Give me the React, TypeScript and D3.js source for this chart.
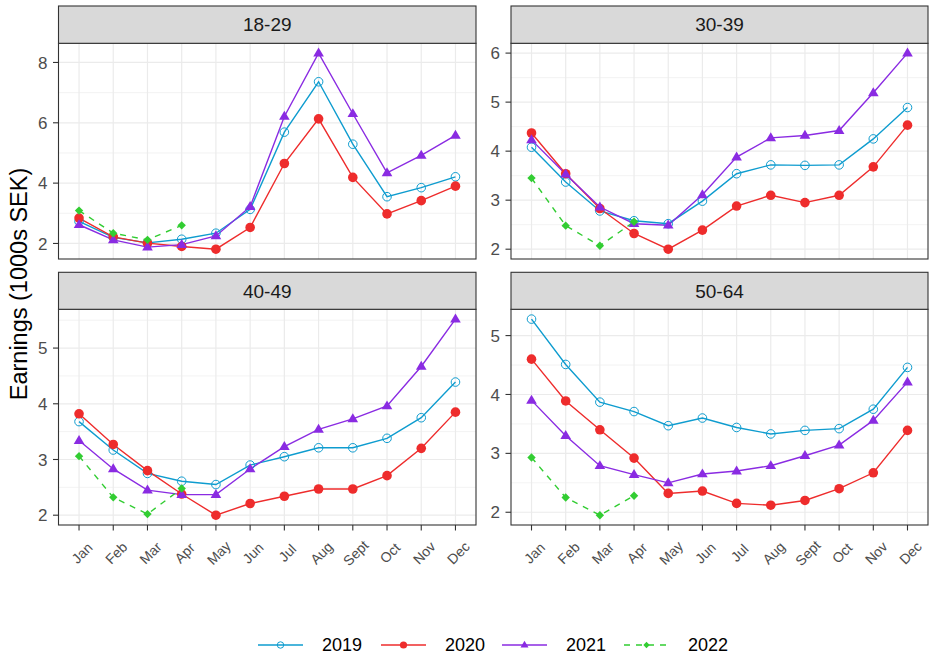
import React from "react";
import * as d3 from "d3";

const months = ["Jan", "Feb", "Mar", "Apr", "May", "Jun", "Jul", "Aug", "Sept", "Oct", "Nov", "Dec"];
const years = ["2019", "2020", "2021", "2022"];
const panels = ["18-29", "30-39", "40-49", "50-64"];

const g1829_2019 = [2.73, 2.2, 2.02, 2.14, 2.34, 3.13, 5.69, 7.36, 5.29, 3.55, 3.85, 4.21];
const g1829_2020 = [2.84, 2.22, 2.01, 1.9, 1.81, 2.53, 4.65, 6.13, 4.19, 2.98, 3.42, 3.9];
const g1829_2021 = [2.62, 2.12, 1.88, 1.96, 2.25, 3.22, 6.21, 8.31, 6.3, 4.34, 4.92, 5.58];
const g1829_2022 = [3.09, 2.34, 2.12, 2.6];

const g3039_2019 = [4.08, 3.37, 2.78, 2.58, 2.52, 2.98, 3.54, 3.72, 3.71, 3.72, 4.25, 4.89];
const g3039_2020 = [4.37, 3.54, 2.83, 2.32, 2.0, 2.39, 2.88, 3.1, 2.95, 3.1, 3.68, 4.53];
const g3039_2021 = [4.23, 3.53, 2.86, 2.52, 2.49, 3.11, 3.88, 4.27, 4.32, 4.42, 5.19, 6.0];
const g3039_2022 = [3.45, 2.48, 2.07, 2.56];

const g4049_2019 = [3.68, 3.17, 2.75, 2.61, 2.55, 2.9, 3.05, 3.21, 3.21, 3.38, 3.75, 4.39];
const g4049_2020 = [3.82, 3.27, 2.8, 2.38, 2.0, 2.21, 2.34, 2.47, 2.47, 2.71, 3.2, 3.85];
const g4049_2021 = [3.34, 2.83, 2.45, 2.37, 2.37, 2.83, 3.23, 3.54, 3.73, 3.96, 4.67, 5.52];
const g4049_2022 = [3.06, 2.32, 2.02, 2.48];

const g5064_2019 = [5.28, 4.51, 3.87, 3.71, 3.47, 3.6, 3.44, 3.33, 3.39, 3.42, 3.75, 4.46];
const g5064_2020 = [4.6, 3.89, 3.4, 2.92, 2.32, 2.36, 2.15, 2.12, 2.2, 2.4, 2.67, 3.39];
const g5064_2021 = [3.9, 3.3, 2.79, 2.64, 2.5, 2.65, 2.7, 2.79, 2.96, 3.14, 3.56, 4.21];
const g5064_2022 = [2.93, 2.25, 1.95, 2.28];

const panelData = [
  [g1829_2019, g1829_2020, g1829_2021, g1829_2022],
  [g3039_2019, g3039_2020, g3039_2021, g3039_2022],
  [g4049_2019, g4049_2020, g4049_2021, g4049_2022],
  [g5064_2019, g5064_2020, g5064_2021, g5064_2022],
];

const colors = ["#0E9CCF", "#EE2C2C", "#8A2BE2", "#32CD32"];
const FONT = "Arial, 'Liberation Sans', sans-serif";

const W = 930;
const H = 658;
const colX = [[58.5, 476], [511, 928]];
const rowY = [
  { s0: 6, s1: 43.3, p1: 259 },
  { s0: 272.3, s1: 309.3, p1: 525 },
];

function Marker({ kind, x, y, color, scale = 1 }: { kind: number; x: number; y: number; color: string; scale?: number }) {
  if (kind === 0) return <circle cx={x} cy={y} r={4.3 * scale} fill="none" stroke={color} strokeWidth={1} />;
  if (kind === 1) return <circle cx={x} cy={y} r={4.8 * scale} fill={color} />;
  if (kind === 2) {
    const s = 5.6 * scale;
    const p = d3.path();
    p.moveTo(x, y - s);
    p.lineTo(x + s * 0.95, y + s * 0.6);
    p.lineTo(x - s * 0.95, y + s * 0.6);
    p.closePath();
    return <path d={p.toString()} fill={color} />;
  }
  const s = 4.2 * scale;
  const p = d3.path();
  p.moveTo(x, y - s);
  p.lineTo(x + s, y);
  p.lineTo(x, y + s);
  p.lineTo(x - s, y);
  p.closePath();
  return <path d={p.toString()} fill={color} />;
}

function Panel({ idx }: { idx: number }) {
  const col = idx % 2;
  const row = Math.floor(idx / 2);
  const [x0, x1] = colX[col];
  const { s0, s1, p1 } = rowY[row];
  const series = panelData[idx];
  const all = series.flat();
  const [mn, mx] = d3.extent(all) as [number, number];
  const pad = (mx - mn) * 0.05;
  const y = d3.scaleLinear().domain([mn - pad, mx + pad]).range([p1, s1]);
  const x = d3.scalePoint<string>().domain(months).range([x0, x1]).padding(0.6);
  const ticks = y.ticks(5);
  const step = ticks[1] - ticks[0];
  const minors: number[] = [];
  for (let t = ticks[0] - step / 2; t <= mx + pad; t += step) {
    if (t >= mn - pad) minors.push(t);
  }
  const line = d3
    .line<number>()
    .x((_, i) => x(months[i]) as number)
    .y((d) => y(d));
  return (
    <g>
      <rect x={x0} y={s1} width={x1 - x0} height={p1 - s1} fill="#fff" />
      {minors.map((t) => (
        <line key={"mi" + t} x1={x0} x2={x1} y1={y(t)} y2={y(t)} stroke="#EBEBEB" strokeWidth={0.6} />
      ))}
      {ticks.map((t) => (
        <line key={"ma" + t} x1={x0} x2={x1} y1={y(t)} y2={y(t)} stroke="#EBEBEB" strokeWidth={1.2} />
      ))}
      {months.map((m) => (
        <line key={"v" + m} x1={x(m)} x2={x(m)} y1={s1} y2={p1} stroke="#EBEBEB" strokeWidth={1.2} />
      ))}
      {series.map((vals, k) => (
        <path
          key={"l" + k}
          d={line(vals) || ""}
          fill="none"
          stroke={colors[k]}
          strokeWidth={1.4}
          strokeDasharray={k === 3 ? "6,6" : undefined}
        />
      ))}
      {series.map((vals, k) =>
        vals.map((v, i) => <Marker key={"m" + k + "-" + i} kind={k} x={x(months[i]) as number} y={y(v)} color={colors[k]} />)
      )}
      <rect x={x0} y={s1} width={x1 - x0} height={p1 - s1} fill="none" stroke="#333" strokeWidth={1.1} />
      <rect x={x0} y={s0} width={x1 - x0} height={s1 - s0} fill="#D9D9D9" stroke="#333" strokeWidth={1.1} />
      <text x={(x0 + x1) / 2} y={(s0 + s1) / 2} dy="0.36em" textAnchor="middle" fontSize={19} fill="#1A1A1A" fontFamily={FONT}>
        {panels[idx]}
      </text>
      {ticks.map((t) => (
        <g key={"yt" + t}>
          <line x1={x0 - 5.5} x2={x0} y1={y(t)} y2={y(t)} stroke="#333" strokeWidth={1.1} />
          <text x={x0 - 11} y={y(t)} dy="0.36em" textAnchor="end" fontSize={17} fill="#4D4D4D" fontFamily={FONT}>
            {t}
          </text>
        </g>
      ))}
      {row === 1 &&
        months.map((m) => {
          const tx = (x(m) as number) + 3;
          const ty = p1 + 28;
          return (
            <g key={"xt" + m}>
              <line x1={x(m)} x2={x(m)} y1={p1} y2={p1 + 5.5} stroke="#333" strokeWidth={1.1} />
              <text
                x={tx}
                y={ty}
                dy="0.35em"
                textAnchor="middle"
                fontSize={14}
                fill="#4D4D4D"
                fontFamily={FONT}
                transform={`rotate(-45 ${tx} ${ty})`}
              >
                {m}
              </text>
            </g>
          );
        })}
    </g>
  );
}

function Legend() {
  const items = [258, 381, 502, 624];
  const yL = 645;
  return (
    <g>
      {years.map((yr, k) => {
        const lx = items[k];
        return (
          <g key={yr}>
            <line
              x1={lx}
              x2={lx + 45}
              y1={yL}
              y2={yL}
              stroke={colors[k]}
              strokeWidth={1.4}
              strokeDasharray={k === 3 ? "6,6" : undefined}
            />
            <Marker kind={k} x={lx + 22.5} y={yL} color={colors[k]} scale={0.75} />
            <text x={lx + 64} y={yL} dy="0.36em" fontSize={18} fill="#000" fontFamily={FONT}>
              {yr}
            </text>
          </g>
        );
      })}
    </g>
  );
}

export default function App() {
  return (
    <svg width={W} height={H} style={{ position: "absolute", left: 0, top: 0, background: "#fff" }}>
      <rect width={W} height={H} fill="#fff" />
      {panels.map((_, i) => (
        <Panel key={i} idx={i} />
      ))}
      <text
        transform={`translate(26.5, 284) rotate(-90)`}
        textAnchor="middle"
        fontSize={23.5}
        fill="#000"
        fontFamily={FONT}
      >
        Earnings (1000s SEK)
      </text>
      <Legend />
    </svg>
  );
}
